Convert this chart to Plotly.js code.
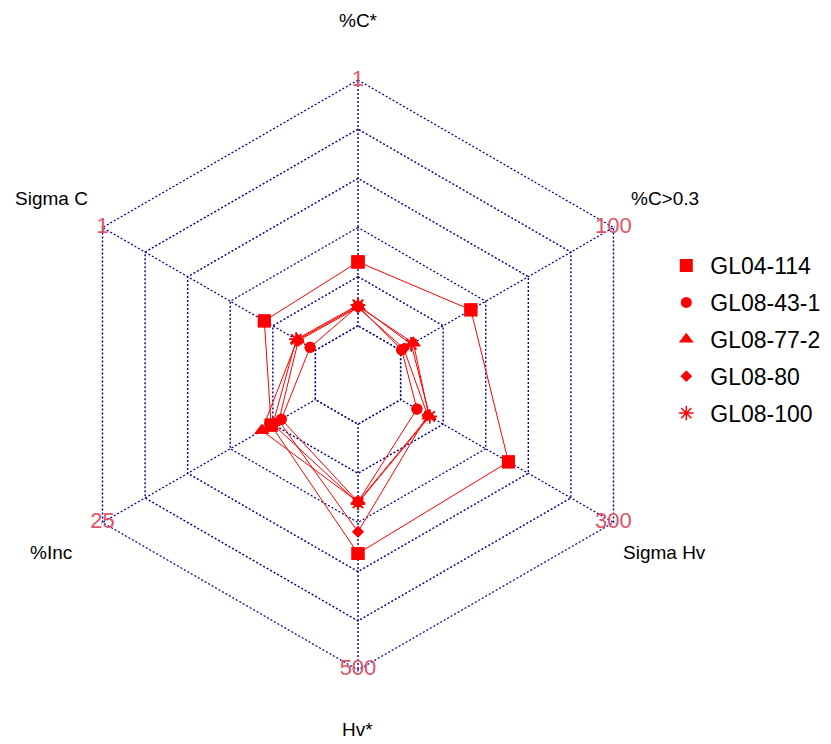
<!DOCTYPE html>
<html><head><meta charset="utf-8">
<script src="https://cdn.plot.ly/plotly-3.0.1.min.js"></script>
<style>html,body{margin:0;padding:0;background:#fff;}</style>
</head><body><div id="chart" style="width:831px;height:744px;"></div>
<script>
// Radar axes (fmsb order: top, then counter-clockwise)
const axisNames = ["%C*", "Sigma C", "%Inc", "Hv*", "Sigma Hv", "%C>0.3"];
const axisMax = [1, 1, 25, 500, 300, 100];
const axisMin = [0, 0, 0, 0, 0, 0];
const axisMaxLabels = ["1", "1", "25", "500", "300", "100"];

// Series
const seriesNames = ["GL04-114", "GL08-43-1", "GL08-77-2", "GL08-80", "GL08-100"];
const gl04_114  = [0.26, 0.24, 5.2, 263, 152, 33];
const gl08_43_1 = [0.08, 0.025, 4.0, 158, 23, 0.5];
const gl08_77_2 = [0.08, 0.085, 6.3, 158, 40, 6];
const gl08_80   = [0.075, 0.08, 4.3, 219, 38, 1.5];
const gl08_100  = [0.085, 0.09, 5.0, 160, 41, 5];

const seriesValues = [gl04_114, gl08_43_1, gl08_77_2, gl08_80, gl08_100];
const symbols = ["square", "circle", "triangle-up", "diamond", "asterisk-open"];
const sizes = [13, 11, 13, 9, 12];

const SEG = 5;
const n = axisNames.length;
const scale = (v, i) => 1 + SEG * (v - axisMin[i]) / (axisMax[i] - axisMin[i]);
const closeLoop = a => a.concat([a[0]]);

const GRID = "#000080";
const GRID_DASH = "2px,2px";
const GRID_W = 1.4;
const RED = "#FF0000";
const PINK = "#DF536B";
const FONT = "Arial, 'Liberation Sans', sans-serif";

// polar geometry (pixels)
const W = 831, H = 744;
const CX = 358, CY = 375, R_OUT = 295;   // centre and radius of outer ring
const RMAX = (SEG + 1) * 1.005;
const RPIX = R_OUT * RMAX / (SEG + 1);
const dom = {x: [(CX - RPIX) / W, (CX + RPIX) / W], y: [(H - CY - RPIX) / H, (H - CY + RPIX) / H]};

const traces = [];
// inner empty hexagon
traces.push({
  type: "scatterpolar", mode: "lines", fill: "toself", fillcolor: "#ffffff",
  r: closeLoop(axisNames.map(() => 1)), theta: closeLoop(axisNames),
  line: {color: GRID, width: GRID_W, dash: GRID_DASH},
  showlegend: false, hoverinfo: "skip"
});

seriesValues.forEach((vals, k) => {
  traces.push({
    type: "scatterpolar", mode: "lines+markers",
    r: closeLoop(vals.map(scale)), theta: closeLoop(axisNames),
    line: {color: RED, width: 1},
    marker: {symbol: symbols[k], size: sizes[k], color: RED, line: {color: RED, width: symbols[k] === "asterisk-open" ? 1.5 : 0}},
    showlegend: false, cliponaxis: false, name: seriesNames[k]
  });
});
// legend entries (markers only)
seriesValues.forEach((vals, k) => {
  traces.push({
    type: "scatterpolar", mode: "markers", r: vals.map(scale), theta: axisNames,
    marker: {symbol: symbols[k], size: sizes[k], color: RED, line: {color: RED, width: symbols[k] === "asterisk-open" ? 1.5 : 0}},
    name: seriesNames[k], legendgroup: "g" + k, showlegend: true, cliponaxis: false
  });
});
// max value labels at vertices
traces.push({
  type: "scatterpolar", mode: "text", r: axisNames.map(() => SEG + 1), theta: axisNames,
  text: axisMaxLabels, textposition: "middle center",
  textfont: {family: FONT, size: 22, color: PINK},
  showlegend: false, cliponaxis: false, hoverinfo: "skip"
});

// axis names as annotations at 1.2 x outer radius
const annotations = axisNames.map((name, i) => {
  const ang = (90 + i * 360 / n) * Math.PI / 180;
  const px = CX + 1.2 * R_OUT * Math.cos(ang);
  const py = CY - 1.2 * R_OUT * Math.sin(ang);
  return {
    text: name, xref: "paper", yref: "paper", x: px / W, y: 1 - py / H,
    xanchor: "center", yanchor: "middle", showarrow: false,
    font: {family: FONT, size: 19, color: "#000"}
  };
});

const layout = {
  width: W, height: H,
  margin: {l: 0, r: 0, t: 0, b: 0},
  paper_bgcolor: "#ffffff",
  font: {family: FONT, color: "#000"},
  annotations: annotations,
  polar: {
    domain: dom,
    bgcolor: "#ffffff",
    gridshape: "linear",
    radialaxis: {
      range: [0, RMAX], tickvals: [1, 2, 3, 4, 5, 6], showticklabels: false,
      ticks: "", showline: false, gridcolor: GRID, griddash: GRID_DASH, gridwidth: GRID_W
    },
    angularaxis: {
      type: "category", categoryarray: axisNames,
      rotation: 90, direction: "counterclockwise",
      showticklabels: false, ticks: "", showline: false,
      gridcolor: GRID, griddash: GRID_DASH, gridwidth: GRID_W
    }
  },
  legend: {
    x: 0.797, y: 0.672, xanchor: "left", yanchor: "top",
    font: {family: FONT, size: 23, color: "#000"},
    itemwidth: 38,
    tracegroupgap: 4, bgcolor: "rgba(0,0,0,0)"
  }
};
Plotly.newPlot("chart", traces, layout, {displayModeBar: false, staticPlot: true});
</script></body></html>
